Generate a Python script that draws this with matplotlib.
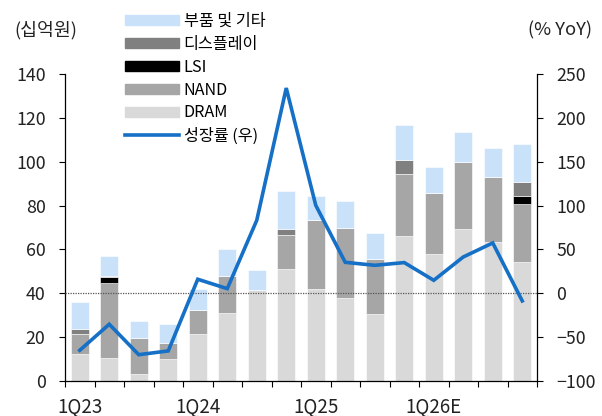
import matplotlib
matplotlib.use("Agg")
import matplotlib.pyplot as plt
import numpy as np
from matplotlib.patches import Patch
from matplotlib.lines import Line2D

plt.rcParams['font.family'] = ['Noto Sans CJK KR', 'DejaVu Sans']

quarters = ['1Q23', '2Q23', '3Q23', '4Q23', '1Q24', '2Q24', '3Q24', '4Q24',
            '1Q25', '2Q25', '3Q25', '4Q25', '1Q26E', '2Q26E', '3Q26E', '4Q26E']
tick_labels = ['1Q23', '1Q24', '1Q25', '1Q26E']
dram = [12.3, 10.3, 3.2, 10.0, 21.3, 31.0, 41.3, 51.2, 42.1, 38.0, 30.5, 66.1, 57.9, 69.3, 63.2, 54.3]
nand = [9.1, 34.2, 16.4, 7.2, 11.1, 16.9, 0.3, 15.4, 31.3, 31.6, 25.1, 28.3, 27.8, 30.6, 29.8, 26.3]
lsi = [0, 2.9, 0, 0, 0, 0, 0, 0, 0, 0, 0, 0, 0, 0, 0, 3.8]
display = [2.5, 0.3, 0.2, 0.3, 0, 0, 0, 2.6, 0, 0, 0, 6.4, 0, 0, 0, 6.3]
other = [12.1, 9.4, 7.7, 8.7, 9.7, 12.4, 9.1, 17.3, 11.0, 12.3, 11.9, 15.9, 11.9, 13.6, 13.2, 17.4]
growth = [-65.0, -35.3, -70.0, -65.7, 16.0, 5.3, 83.2, 234.0, 100.3, 35.3, 31.9, 35.0, 14.8, 41.4, 57.4, -8.7]

c_other = '#C9E2FA'
c_disp = '#808080'
c_lsi = '#000000'
c_nand = '#A6A6A6'
c_dram = '#D9D9D9'
c_line = '#1570C6'

fig = plt.figure(figsize=(6.02, 4.16), dpi=100)
ax = fig.add_axes([65/602, 1-381/416, (537-65)/602, (381-74)/416])
x = np.arange(len(quarters))
w = 0.6
bottom = np.zeros(len(quarters))
for vals, col in [(dram, c_dram), (nand, c_nand), (lsi, c_lsi), (display, c_disp), (other, c_other)]:
    v = np.array(vals, dtype=float)
    ax.bar(x, v, w, bottom=bottom, color=col, edgecolor='white', linewidth=0.4, zorder=2)
    bottom += v

ax.set_xlim(-0.5, len(quarters) - 0.5)
ax.set_ylim(0, 140)
ax.set_yticks(np.arange(0, 141, 20))
ax.axhline(40, color='#555555', linestyle=(0, (1, 1)), linewidth=0.9, zorder=3)

ax.set_xticks([0, 4, 8, 12])
ax.set_xticklabels(tick_labels)
ax.set_xticks(np.arange(-0.5, len(quarters), 1), minor=True)
ax.tick_params(axis='x', which='major', length=0, pad=11, labelsize=13.5, colors='#222222')
ax.tick_params(axis='x', which='minor', length=4, width=0.8, direction='out')
ax.tick_params(axis='y', length=4, width=0.8, pad=10, labelsize=12.8, labelcolor='#222222')
for s in ['top', 'right']:
    ax.spines[s].set_visible(False)
for s in ['left', 'bottom']:
    ax.spines[s].set_linewidth(0.9)

ax2 = ax.twinx()
ax2.plot(x, growth, color=c_line, linewidth=2.6, zorder=5, solid_joinstyle='miter')
ax2.set_ylim(-100, 250)
ax2.set_yticks(np.arange(-100, 251, 50))
ax2.tick_params(axis='y', length=4, width=0.8, pad=10, labelsize=12.8, labelcolor='#222222')
for s in ['top', 'left', 'bottom']:
    ax2.spines[s].set_visible(False)
ax2.spines['right'].set_linewidth(0.9)

fig.text(14/602, 1-30/416, '(십억원)', fontsize=13.2, color='#222222', va='center', ha='left')
fig.text(592/602, 1-30/416, '(% YoY)', fontsize=13.2, color='#222222', va='center', ha='right')

handles = [Patch(color=c_other), Patch(color=c_disp), Patch(color=c_lsi),
           Patch(color=c_nand), Patch(color=c_dram),
           Line2D([0], [0], color=c_line, linewidth=2.6)]
labels = ['부품 및 기타', '디스플레이', 'LSI', 'NAND', 'DRAM', '성장률 (우)']
fig.legend(handles, labels, loc='upper left', bbox_to_anchor=(125/602, 1-13/416),
           frameon=False, fontsize=11.7, handlelength=3.3, handleheight=0.6,
           handletextpad=0.3, labelspacing=0.36, borderpad=0, borderaxespad=0)

fig.savefig('out.png', dpi=100)
